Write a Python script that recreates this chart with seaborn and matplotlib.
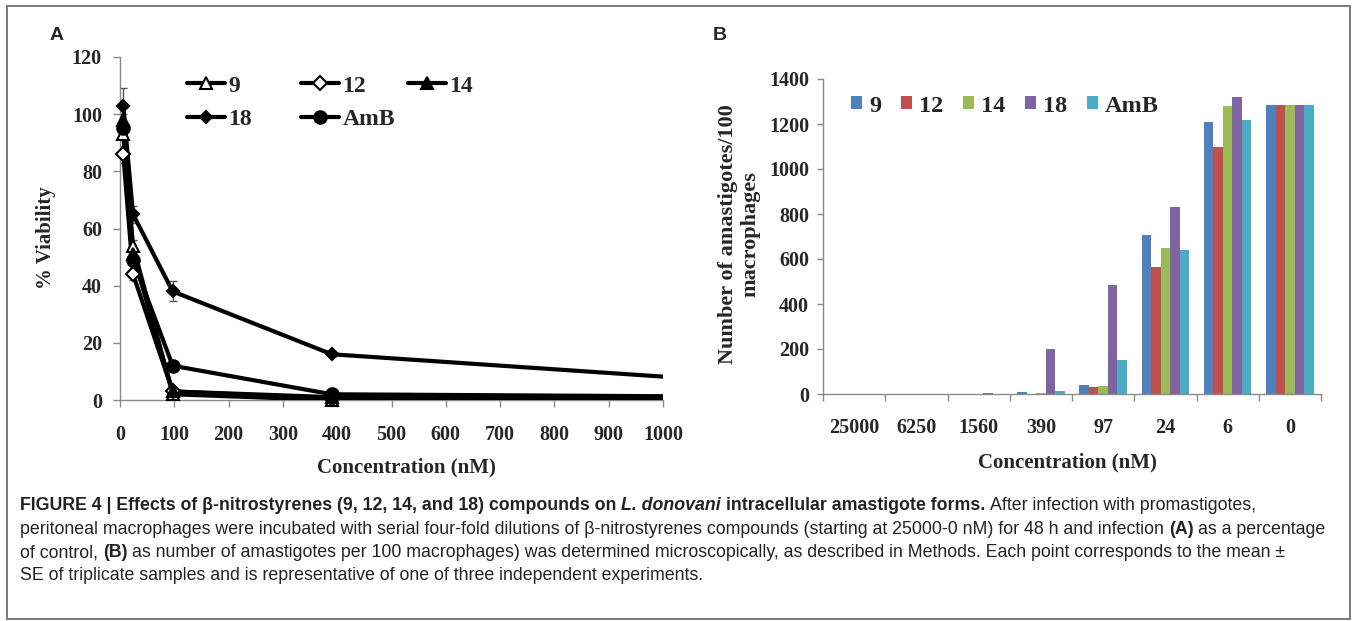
import numpy as np
import pandas as pd
import matplotlib
matplotlib.use("Agg")
import matplotlib.pyplot as plt
import seaborn as sns
from matplotlib.lines import Line2D
from matplotlib.patches import Patch, Rectangle

# ---------------- data ----------------
# Panel A: % viability vs concentration (nM)
conc_a = [6, 24, 97, 390, 1560]
via_9 = [93, 54, 2, 0, 0]
via_12 = [86, 44, 3, 0.5, 0.5]
via_14 = [98, 51, 3, 1, 0.7]
via_18 = [103, 65, 38, 16, 1]
via_amb = [95, 49, 12, 2, 0.7]
err_9 = [2, 2, 0.5, 0.2, 0.2]
err_12 = [3, 2, 1, 0.3, 0.3]
err_14 = [2, 2, 1, 0.5, 0.3]
err_18 = [6, 3, 3.5, 1, 0.5]
err_amb = [2, 2, 1, 0.5, 0.3]

# Panel B: amastigotes / 100 macrophages
cats_b = ["25000", "6250", "1560", "390", "97", "24", "6", "0"]
amas_9 = [0, 0, 0, 8, 40, 705, 1210, 1285]
amas_12 = [0, 0, 0, 0, 30, 565, 1100, 1285]
amas_14 = [0, 0, 0, 5, 35, 648, 1278, 1285]
amas_18 = [0, 0, 3, 200, 485, 830, 1320, 1285]
amas_amb = [0, 0, 0, 15, 150, 640, 1220, 1285]
compounds = ["9", "12", "14", "18", "AmB"]
bar_colors = ["#4F81BD", "#C0504D", "#9BBB59", "#8064A2", "#4BACC6"]

# ---------------- style ----------------
sns.set_theme(style="white")
plt.rcParams["font.family"] = ["Liberation Serif", "DejaVu Serif"]
plt.rcParams["font.weight"] = "bold"

W, H = 1357, 621
fig = plt.figure(figsize=(W / 100, H / 100), dpi=100)
fig.patch.set_facecolor("white")


def fx(px):
    return px / W


def fy(py):
    return 1 - py / H


GRAY = "#8a8a8a"

# ---------------- Panel A ----------------
axA = fig.add_axes([fx(120), fy(400), fx(663) - fx(120), fy(57) - fy(400)])
series_a = [
    ("9", via_9, err_9, dict(marker="^", markerfacecolor="white", markersize=9)),
    ("12", via_12, err_12, dict(marker="D", markerfacecolor="white", markersize=7)),
    ("14", via_14, err_14, dict(marker="^", markerfacecolor="black", markersize=9)),
    ("18", via_18, err_18, dict(marker="D", markerfacecolor="black", markersize=6)),
    ("AmB", via_amb, err_amb, dict(marker="o", markerfacecolor="black", markersize=9)),
]
handles_a = {}
for name, vals, errs, mk in series_a:
    axA.errorbar(conc_a, vals, yerr=errs, fmt="none", ecolor="#555555",
                 elinewidth=1, capsize=3, capthick=1, zorder=2)
    sns.lineplot(x=conc_a, y=vals, ax=axA, color="black", linewidth=3,
                 errorbar=None, zorder=3)
    xs = [c for c in conc_a if c <= 1000]
    ys = [v for c, v in zip(conc_a, vals) if c <= 1000]
    sns.lineplot(x=xs, y=ys, ax=axA, color="black", linestyle="", errorbar=None,
                 markeredgecolor="black", markeredgewidth=1.5, clip_on=False,
                 zorder=4, **mk)
    handles_a[name] = Line2D([0], [0], color="black", lw=3, markeredgecolor="black",
                             markeredgewidth=1.5, **mk)

axA.set_xlim(0, 1000)
axA.set_ylim(0, 120)
axA.set_xticks(np.arange(0, 1001, 100))
axA.set_yticks(np.arange(0, 121, 20))
axA.set_xlabel("")
axA.set_ylabel("")
for s in ["top", "right"]:
    axA.spines[s].set_visible(False)
for s in ["left", "bottom"]:
    axA.spines[s].set_color(GRAY)
    axA.spines[s].set_linewidth(1)
axA.tick_params(axis="x", direction="out", length=5, width=1, color=GRAY,
                labelsize=14.5, pad=13, bottom=True)
axA.tick_params(axis="y", direction="out", length=5, width=1, color=GRAY,
                labelsize=14.5, pad=8, left=True)

# legend A: three columns placed like the original
leg_kw = dict(frameon=False, fontsize=17, handlelength=1.6, handletextpad=0.15,
              labelspacing=0.5, borderpad=0, borderaxespad=0, loc="upper left",
              bbox_transform=fig.transFigure)
cols = [(187, ["9", "18"]), (301, ["12", "AmB"]), (408, ["14"])]
for i, (xp, names) in enumerate(cols):
    lg = axA.legend([handles_a[n] for n in names], names,
                    bbox_to_anchor=(fx(xp), fy(75)), **leg_kw)
    if i < len(cols) - 1:
        axA.add_artist(lg)

fig.text(fx(406), fy(467), "Concentration (nM)", ha="center", va="center", fontsize=15)
fig.text(fx(46), fy(238), "% Viability", ha="center", va="center", rotation=90, fontsize=15)
fig.text(fx(50), fy(35), "A", ha="left", va="center", fontsize=14, fontweight="bold",
         family="Liberation Sans")

# ---------------- Panel B ----------------
axB = fig.add_axes([fx(823), fy(394), fx(1321) - fx(823), fy(79) - fy(394)])
dfb = pd.DataFrame({
    "conc": cats_b * 5,
    "cpd": sum([[c] * len(cats_b) for c in compounds], []),
    "count": amas_9 + amas_12 + amas_14 + amas_18 + amas_amb,
})
sns.barplot(data=dfb, x="conc", y="count", hue="cpd", order=cats_b,
            hue_order=compounds, palette=bar_colors, saturation=1, width=0.76,
            linewidth=0, legend=False, ax=axB)
axB.set_xlim(-0.5, 7.5)
axB.set_ylim(0, 1400)
axB.set_yticks(np.arange(0, 1401, 200))
axB.set_xticks(range(len(cats_b)))
axB.set_xticklabels(cats_b)
axB.set_xticks(np.arange(-0.5, len(cats_b), 1), minor=True)
axB.set_xlabel("")
axB.set_ylabel("")
for s in ["top", "right"]:
    axB.spines[s].set_visible(False)
for s in ["left", "bottom"]:
    axB.spines[s].set_color(GRAY)
    axB.spines[s].set_linewidth(1)
axB.tick_params(axis="x", which="major", length=0, labelsize=14.5, pad=17, bottom=True)
axB.tick_params(axis="x", which="minor", direction="out", length=5, width=1,
                color=GRAY, bottom=True)
axB.tick_params(axis="y", direction="out", length=4, width=1, color=GRAY,
                labelsize=14.5, pad=6, left=True)

handles_b = [Patch(facecolor=c, edgecolor="none") for c in bar_colors]
axB.legend(handles_b, compounds, frameon=False, fontsize=17.5, ncol=5,
           handlelength=0.45, handleheight=0.45, handletextpad=0.3,
           columnspacing=0.8, borderpad=0, borderaxespad=0, loc="center left",
           bbox_to_anchor=(fx(851), fy(106)), bbox_transform=fig.transFigure)

fig.text(fx(1067), fy(462), "Concentration (nM)", ha="center", va="center", fontsize=15)
fig.text(fx(739), fy(234), "Number of amastigotes/100\nmacrophages", ha="center",
         va="center", rotation=90, fontsize=16, linespacing=1.2)
fig.text(fx(713), fy(35), "B", ha="left", va="center", fontsize=14, fontweight="bold",
         family="Liberation Sans")

# ---------------- frame ----------------
fig.add_artist(Rectangle((fx(7), fy(619)), fx(1350) - fx(7), fy(6) - fy(619),
                         transform=fig.transFigure, fill=False, edgecolor="#6f6f6f",
                         linewidth=1.3))

# ---------------- caption ----------------
cap_family = ["Liberation Sans"]
cap_lines = [
    [("FIGURE 4 | Effects of β-nitrostyrenes (9, 12, 14, and 18) compounds on", "bold", "normal"),
     (" L. donovani", "bold", "italic"),
     (" intracellular amastigote forms.", "bold", "normal"),
     (" After infection with promastigotes,", "normal", "normal")],
    [("peritoneal macrophages were incubated with serial four-fold dilutions of β-nitrostyrenes compounds (starting at 25000-0 nM) for 48 h and infection", "normal", "normal"),
     (" (A)", "bold", "normal"),
     (" as a percentage", "normal", "normal")],
    [("of control,", "normal", "normal"),
     (" (B)", "bold", "normal"),
     (" as number of amastigotes per 100 macrophages) was determined microscopically, as described in Methods. Each point corresponds to the mean ±", "normal", "normal")],
    [("SE of triplicate samples and is representative of one of three independent experiments.", "normal", "normal")],
]
renderer = fig.canvas.get_renderer()


def draw_rich(x0, ybase, pieces, size):
    x = x0
    arts = []
    for txt, wt, st in pieces:
        if txt.startswith(" "):
            t1 = fig.text(0, 0, "a a", fontsize=size, fontweight=wt, family=cap_family)
            t2 = fig.text(0, 0, "aa", fontsize=size, fontweight=wt, family=cap_family)
            x += t1.get_window_extent(renderer).width - t2.get_window_extent(renderer).width
            t1.remove()
            t2.remove()
            txt = txt[1:]
        t = fig.text(fx(x), fy(ybase), txt, fontsize=size, fontweight=wt, fontstyle=st,
                     family=cap_family, color="#222222", ha="left", va="baseline")
        x += t.get_window_extent(renderer).width
        arts.append(t)
    return x - x0, arts


base = 11
wdt, arts = draw_rich(20, 534, cap_lines[1], base)
for a in arts:
    a.remove()
cap_size = base * 1300 / wdt
for yb, pcs in zip([510, 534, 557, 580], cap_lines):
    draw_rich(20, yb, pcs, cap_size)

fig.savefig("out.png", dpi=100, facecolor="white")
